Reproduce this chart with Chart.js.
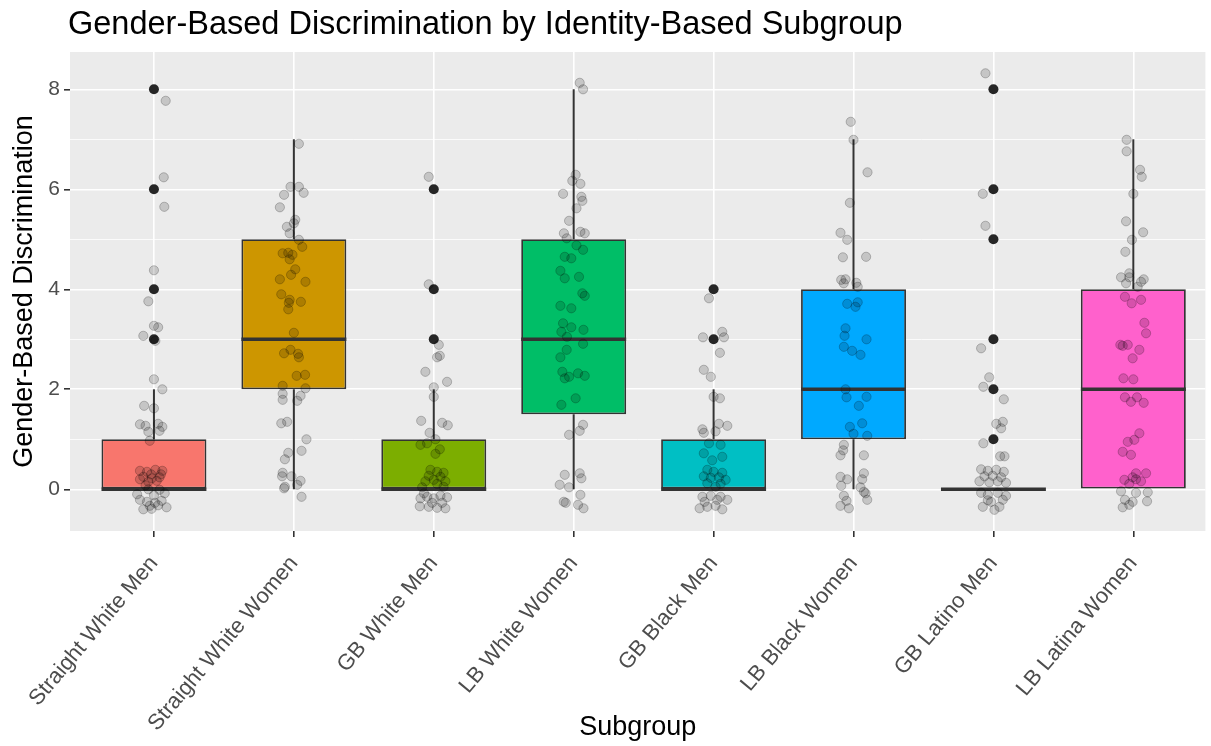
<!DOCTYPE html>
<html>
<head>
<meta charset="utf-8">
<script src="https://cdn.jsdelivr.net/npm/chart.js@4"></script>
<style>
  html, body { margin: 0; padding: 0; background: #fff; }
  #wrap { width: 1211px; height: 746px; }
</style>
</head>
<body>
<div id="wrap"><canvas id="chart"></canvas></div>
<script>
const subgroups = ['Straight White Men', 'Straight White Women', 'GB White Men', 'LB White Women',
  'GB Black Men', 'LB Black Women', 'GB Latino Men', 'LB Latina Women'];
const boxColors = ['#F8766D', '#CD9600', '#7CAE00', '#00BE67', '#00BFC4', '#00A9FF', '#C77CFF', '#FF61CC'];

// box stats
const q1 = [0, 2, 0, 1.5, 0, 1, 0, 0];
const medians = [0, 3, 0, 3, 0, 2, 0, 2];
const q3 = [1, 5, 1, 5, 1, 4, 0, 4];
const whiskerLow = [0, 0, 0, 0, 0, 0, 0, 0];
const whiskerHigh = [2, 7, 2, 8, 2, 7, 0, 7];
const outliers = [[3, 4, 6, 8], [], [3, 4, 6], [], [3, 4], [], [1, 2, 3, 5, 6, 8], []];

// jittered responses: [x jitter, value]
const swmPoints = [[.084,7.77],[.07,6.24],[.074,5.65],[0,4.38],[-.04,3.76],[0,3.27],[.03,3.24],[-.076,3.07],[.01,2.97],
  [0,2.2],[.06,2.0],[-.07,1.67],[0,1.62],[-.1,1.3],[-.06,1.27],[.03,1.31],[.06,1.25],[-.04,1.15],[.04,1.17],[-.03,.97],
  [-.1,.37],[-.05,.35],[.01,.39],[.06,.37],[-.076,.25],[-.015,.22],[.04,.24],[-.1,.2],[-.04,.15],[.02,.17],[.05,.3],
  [-.02,.3],[-.06,.08],[-.04,0],[.04,-.01],[-.1,-.21],[-.05,-.25],[.007,-.27],[.055,-.23],[.09,-.36],[-.076,-.4],
  [-.017,-.39],[.03,-.32],[.077,-.08],[-.12,-.1],[0,-.12],[-.03,-.33]];
const swwPoints = [[.036,6.91],[-.024,6.05],[.036,6.05],[-.07,5.89],[.07,5.93],[-.1,5.64],[.01,5.39],[-.05,5.25],[0,5.32],
  [-.03,5.12],[.036,4.99],[.06,4.85],[-.08,4.72],[-.04,4.73],[-.01,4.69],[-.03,4.6],[.01,4.4],[-.02,4.29],[-.1,4.2],
  [.083,4.15],[-.09,3.9],[-.03,3.79],[-.036,3.73],[.05,3.75],[-.04,3.6],[0,3.13],[-.07,2.72],[-.024,2.79],[.03,2.71],
  [.036,2.64],[.02,2.27],[.08,2.29],[-.08,2.07],[.083,2.02],[-.08,1.91],[-.08,1.79],[.024,1.77],[.048,1.87],[-.09,1.32],
  [-.048,1.35],[.09,1.0],[.055,.77],[-.04,.73],[-.064,.6],[-.08,.33],[-.017,.26],[.048,.17],[-.064,.05],[.024,.09],
  [.055,-.15],[-.084,.26],[-.07,.02]];
const gbwmPoints = [[-.036,6.25],[-.036,4.1],[.036,2.89],[.043,2.67],[.024,2.64],[-.06,2.35],[.095,2.15],[0,2.04],[0,1.85],
  [-.09,1.37],[.06,1.33],[.1,1.28],[-.03,1.13],[.012,1.0],[-.095,.89],[-.048,.92],[.043,.8],[.012,.71],[-.024,.39],
  [.024,.35],[.07,.33],[-.036,.27],[.048,.25],[0,.19],[-.06,.16],[.083,.16],[.024,.11],[-.083,.04],[.07,.05],
  [-.095,-.18],[-.048,-.15],[0,-.18],[.048,-.13],[.095,-.16],[-.1,-.34],[-.036,-.35],[.024,-.37],[.083,-.38],
  [-.012,-.27],[-.07,-.08],[.06,-.27]];
const lbwwPoints = [[.043,8.13],[.067,8.0],[.014,6.29],[-.01,6.17],[.048,6.11],[-.076,5.91],[.055,5.85],[.062,5.77],
  [.02,5.62],[-.033,5.37],[-.07,5.12],[.048,5.15],[.079,5.12],[-.05,5.02],[.02,4.88],[.067,4.79],[-.064,4.65],
  [-.017,4.62],[-.095,4.37],[-.064,4.22],[.038,4.25],[.062,3.92],[.079,3.87],[-.095,3.67],[-.017,3.62],[-.076,3.32],
  [-.017,3.24],[-.088,3.15],[.07,3.19],[-.048,3.05],[.067,2.91],[-.05,2.79],[-.095,2.64],[-.081,2.35],[-.033,2.25],
  [.031,2.32],[.079,2.27],[-.064,2.22],[.014,1.82],[-.088,1.69],[.067,1.29],[.043,1.17],[-.033,1.09],[-.064,.29],
  [.043,.32],[.055,.22],[-.1,.09],[-.033,.04],[.048,-.11],[-.071,-.25],[-.057,-.27],[.07,-.38],[.031,-.31]];
const gbbmPoints = [[-.033,3.82],[.062,3.15],[.074,3.04],[-.076,3.04],[.045,2.73],[-.07,2.39],[-.02,2.25],[0,1.85],
  [.045,1.82],[-.08,1.2],[-.07,1.13],[.038,1.31],[.098,1.27],[.014,1.16],[-.033,.92],[.05,.89],[-.07,.72],[.062,.65],
  [-.01,.58],[-.045,.39],[0,.35],[.062,.33],[-.07,.26],[-.02,.23],[.038,.24],[.086,.19],[-.045,.12],[.05,.11],
  [.014,.05],[-.08,-.15],[-.02,-.13],[.05,-.15],[.098,-.21],[-.1,-.38],[-.045,-.35],[.014,-.33],[.062,-.4],
  [.026,-.21],[-.064,-.25]];
const lbbwPoints = [[-.02,7.35],[0,6.99],[.1,6.34],[-.026,5.73],[-.093,5.13],[-.045,4.99],[-.076,4.64],[.09,4.65],
  [-.088,4.19],[-.057,4.2],[.02,4.13],[.03,4.05],[-.07,4.12],[-.045,3.71],[.03,3.74],[.014,3.65],[-.057,3.22],
  [-.064,3.07],[.093,3.0],[-.069,2.85],[-.01,2.77],[.05,2.69],[-.057,2.0],[.093,1.85],[-.05,1.84],[.038,1.67],
  [.062,1.32],[-.026,1.25],[0,1.11],[.098,1.07],[-.069,.89],[-.074,.78],[.074,.68],[-.093,.68],[-.093,.25],
  [-.045,.2],[.074,.32],[.062,.2],[-.088,.07],[.05,.04],[.074,-.05],[-.069,-.13],[.098,-.21],[-.05,-.23],
  [.086,-.08],[-.093,-.33],[-.033,-.38]];
const gblmPoints = [[-.057,8.32],[-.076,5.91],[-.057,5.27],[-.088,2.82],[-.03,2.24],[-.072,2.05],[.074,1.8],[.067,1.35],
  [.02,1.31],[.055,1.22],[-.072,.92],[.048,.66],[.079,.66],[-.088,.4],[-.04,.37],[.02,.39],[.074,.35],[-.064,.26],
  [-.005,.27],[.055,.24],[-.1,.16],[-.029,.14],[.031,.16],[.09,.13],[-.088,-.07],[-.04,-.11],[.031,-.07],[.09,-.13],
  [-.076,-.35],[-.017,-.25],[.043,-.35],[.067,-.21],[-.04,-.22],[.007,-.41]];
const lblwPoints = [[-.048,6.99],[-.048,6.76],[.048,6.39],[.06,6.25],[0,5.91],[-.052,5.36],[.07,5.14],[-.01,4.99],
  [-.057,4.75],[-.088,4.24],[-.029,4.32],[-.029,4.24],[.074,4.2],[.031,4.05],[-.052,4.12],[.055,4.15],[-.06,3.85],
  [-.012,3.72],[.055,3.79],[.079,3.33],[.091,3.12],[-.093,2.89],[-.076,2.87],[-.04,2.89],[.043,2.79],[-.005,2.62],
  [-.071,2.22],[0,2.2],[-.06,1.84],[-.017,1.75],[.026,1.84],[.074,1.73],[.043,1.12],[-.04,.95],[.007,.99],
  [-.076,.75],[-.017,.69],[.019,.32],[-.005,.24],[.091,.32],[-.064,.19],[.055,.16],[-.029,.11],[.019,.2],
  [-.088,-.04],[.019,-.07],[.103,-.06],[-.06,-.21],[-.005,-.25],[.098,-.24],[-.076,-.36],[-.029,-.31]];

const groupPoints = [swmPoints, swwPoints, gbwmPoints, lbwwPoints, gbbmPoints, lbbwPoints, gblmPoints, lblwPoints];

const yTicks = [0, 1, 2, 3, 4, 5, 6, 7, 8];
const BOX_HALF = 0.375;

const panelBg = {
  id: 'panelBg',
  beforeDraw(chart) {
    const {ctx, chartArea: a} = chart;
    ctx.save();
    ctx.fillStyle = '#EBEBEB';
    ctx.fillRect(a.left, a.top, a.right - a.left, a.bottom - a.top);
    ctx.restore();
  }
};

const boxParts = {
  id: 'boxParts',
  beforeDatasetsDraw(chart) {
    const {ctx, scales: {x, y}} = chart;
    ctx.save();
    ctx.strokeStyle = '#333333';
    ctx.lineWidth = 2;
    subgroups.forEach((s, i) => {
      const px = x.getPixelForValue(i + 1);
      ctx.beginPath();
      ctx.moveTo(px, y.getPixelForValue(q3[i]));
      ctx.lineTo(px, y.getPixelForValue(whiskerHigh[i]));
      ctx.moveTo(px, y.getPixelForValue(q1[i]));
      ctx.lineTo(px, y.getPixelForValue(whiskerLow[i]));
      ctx.stroke();
    });
    ctx.restore();
  },
  afterDatasetDraw(chart, args) {
    if (args.meta.type !== 'bar') return;
    const {ctx, scales: {x, y}} = chart;
    ctx.save();
    ctx.strokeStyle = '#333333';
    ctx.lineWidth = 3.6;
    subgroups.forEach((s, i) => {
      const py = y.getPixelForValue(medians[i]);
      ctx.beginPath();
      ctx.moveTo(x.getPixelForValue(i + 1 - BOX_HALF), py);
      ctx.lineTo(x.getPixelForValue(i + 1 + BOX_HALF), py);
      ctx.stroke();
    });
    ctx.restore();
  }
};

const plotTitle = {
  id: 'plotTitle',
  afterDraw(chart) {
    const {ctx, chartArea} = chart;
    ctx.save();
    ctx.fillStyle = '#000';
    ctx.font = '32.5px "Liberation Sans", Arial, sans-serif';
    ctx.textBaseline = 'alphabetic';
    ctx.textAlign = 'left';
    ctx.fillText('Gender-Based Discrimination by Identity-Based Subgroup', chartArea.left - 2, 34);
    ctx.restore();
  }
};

const jitterData = groupPoints.flatMap((pts, i) => pts.map(([dx, v]) => ({x: i + 1 + dx, y: v})));
const outlierData = outliers.flatMap((vals, i) => vals.map(v => ({x: i + 1, y: v})));
const boxData = subgroups.map((s, i) => ({x: i + 1, y: [q1[i], q3[i]]}));

Chart.defaults.font.family = '"Liberation Sans", Arial, sans-serif';

new Chart(document.getElementById('chart'), {
  type: 'scatter',
  data: {
    datasets: [
      {
        type: 'scatter',
        data: jitterData,
        pointRadius: 4.6,
        backgroundColor: 'rgba(0,0,0,0.16)',
        borderColor: 'rgba(0,0,0,0.22)',
        borderWidth: 1,
        order: 0
      },
      {
        type: 'scatter',
        data: outlierData,
        pointRadius: 5,
        backgroundColor: '#262626',
        borderWidth: 0,
        order: 1
      },
      {
        type: 'bar',
        data: boxData,
        backgroundColor: boxColors,
        borderColor: '#333333',
        borderWidth: 1.8,
        borderSkipped: false,
        barPercentage: 0.75,
        categoryPercentage: 1,
        grouped: false,
        order: 2
      }
    ]
  },
  options: {
    responsive: true,
    maintainAspectRatio: false,
    animation: false,
    layout: {padding: {top: 52, right: 0, bottom: 0, left: 0}},
    plugins: {
      legend: {display: false},
      tooltip: {enabled: false}
    },
    scales: {
      x: {
        type: 'linear',
        min: 0.4,
        max: 8.515,
        offset: false,
        afterBuildTicks: (scale) => { scale.ticks = subgroups.map((s, i) => ({value: i + 1})); },
        afterFit: (scale) => { scale.height = 215; },
        border: {display: false},
        grid: {offset: false, color: '#FFFFFF', lineWidth: 1.6, tickColor: '#333333', tickLength: 6, tickWidth: 1.6},
        ticks: {
          autoSkip: false,
          minRotation: 50,
          maxRotation: 50,
          padding: 14,
          color: '#4D4D4D',
          font: {size: 22},
          callback: (v) => subgroups[v - 1]
        },
        title: {display: true, text: 'Subgroup', color: '#000', font: {size: 27}, padding: {top: 0, bottom: 2}}
      },
      y: {
        min: -0.834,
        max: 8.746,
        afterBuildTicks: (scale) => { scale.ticks = yTicks.map(v => ({value: v})); },
        afterFit: (scale) => { scale.width = 70; },
        border: {display: false},
        grid: {
          color: '#FFFFFF',
          lineWidth: (c) => (c.tick && c.tick.value % 2 === 0 ? 1.6 : 0.8),
          tickColor: (c) => (c.tick && c.tick.value % 2 === 0 ? '#333333' : 'rgba(0,0,0,0)'),
          tickLength: 6,
          tickWidth: 1.6
        },
        ticks: {
          padding: 4,
          color: '#4D4D4D',
          font: {size: 21},
          callback: (v) => (v % 2 === 0 ? String(v) : '')
        },
        title: {display: true, text: 'Gender-Based Discrimination', color: '#000', font: {size: 27}, padding: {top: 8, bottom: 0}}
      }
    }
  },
  plugins: [panelBg, boxParts, plotTitle]
});
</script>
</body>
</html>
